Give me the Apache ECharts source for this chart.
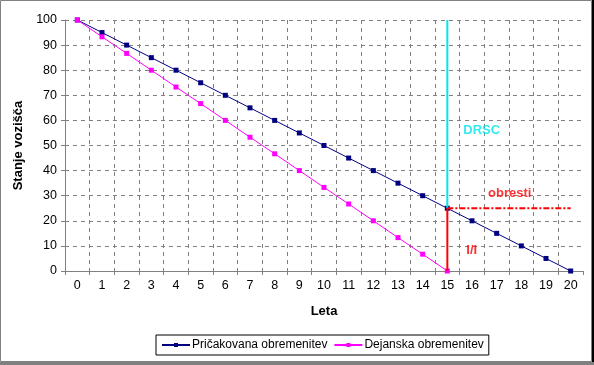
<!DOCTYPE html>
<html>
<head>
<meta charset="utf-8">
<script src="https://cdn.jsdelivr.net/npm/echarts@6/dist/echarts.min.js"></script>
<style>
html,body{margin:0;padding:0;background:#fff;}
#c{width:594px;height:365px;}
</style>
</head>
<body>
<div id="c"></div>
<script>
const years = ['0','1','2','3','4','5','6','7','8','9','10','11','12','13','14','15','16','17','18','19','20'];
const pricakovana = [100,95,90,85,80,75,70,65,60,55,50,45,40,35,30,25,20,15,10,5,0];
const dejanska = [100,93.3,86.7,80,73.3,66.7,60,53.3,46.7,40,33.3,26.7,20,13.3,6.7,0,null,null,null,null,null];
const seriesNames = ['Pričakovana obremenitev','Dejanska obremenitev'];
const drscLine = [['15',25],['15',100]];
const iiLine = [['15',0],['15',25]];
const obrestiLine = [['15',25],['20',25]];
const notes = [
  {text:'DRSC', x:'15', y:56, color:'#00E5EE', dx:16},
  {text:'obresti', x:'16', y:31, color:'#FF0000', dx:16},
  {text:'I/I', x:'15', y:8, color:'#FF0000', dx:19}
];

const chart = echarts.init(document.getElementById('c'), null, {renderer:'canvas'});
const font = 'Liberation Sans, Arial, sans-serif';
chart.setOption({
  animation:false,
  textStyle:{fontFamily:font},
  graphic:[
    {type:'rect', shape:{x:0.5,y:0.5,width:591,height:361}, style:{fill:'none',stroke:'#808080',lineWidth:1}, z:-1},
    {type:'rect', shape:{x:592,y:0,width:2,height:365}, style:{fill:'#000'}},
    {type:'rect', shape:{x:0,y:362,width:594,height:3}, style:{fill:'#808080'}}
  ],
  grid:{left:65, right:11, top:20, bottom:94, containLabel:false},
  legend:{
    bottom:10, left:156,
    data:seriesNames,
    itemWidth:28, itemHeight:5, itemGap:6,
    padding:[4,5,4,5],
    borderColor:'#000', borderWidth:1,
    textStyle:{fontSize:12, color:'#000', fontFamily:font, padding:[0,0,0,-3]}
  },
  xAxis:{
    type:'category', data:years, boundaryGap:true,
    name:'Leta', nameLocation:'middle', nameGap:34,
    nameTextStyle:{fontWeight:'bold', fontSize:13, color:'#000', fontFamily:font},
    axisLine:{lineStyle:{color:'#808080'}},
    axisTick:{show:true, inside:false, length:4, lineStyle:{color:'#808080'}},
    axisLabel:{color:'#000', fontSize:12.5, margin:8, fontFamily:font, interval:0},
    splitLine:{show:true, showMinLine:false, showMaxLine:false, lineStyle:{color:'#808080', type:[4,4]}}
  },
  yAxis:{
    type:'value', min:0, max:100, interval:10,
    name:'Stanje vozišča', nameLocation:'middle', nameGap:32, nameRotate:90,
    nameTextStyle:{fontWeight:'bold', fontSize:13, color:'#000', fontFamily:font},
    axisLine:{show:true, lineStyle:{color:'#808080'}},
    axisTick:{show:true, length:4, lineStyle:{color:'#808080'}},
    axisLabel:{color:'#000', fontSize:12.5, margin:8, fontFamily:font},
    splitLine:{show:true, showMinLine:false, lineStyle:{color:'#808080', type:[4,4]}}
  },
  series:[
    {
      name:seriesNames[0], type:'line', data:pricakovana,
      symbol:'rect', symbolSize:5, showSymbol:true,
      lineStyle:{color:'#000080', width:1}, itemStyle:{color:'#000080'}, z:3
    },
    {
      name:seriesNames[1], type:'line', data:dejanska,
      symbol:'rect', symbolSize:5, showSymbol:true,
      lineStyle:{color:'#FF00FF', width:1}, itemStyle:{color:'#FF00FF'}, z:3
    },
    {
      name:'drsc', type:'line', data:drscLine, symbol:'none',
      lineStyle:{color:'#00E5EE', width:2}, z:4, silent:true
    },
    {
      name:'ii', type:'line', data:iiLine, symbol:'none',
      lineStyle:{color:'#FF0000', width:2}, z:5, silent:true
    },
    {
      name:'obresti', type:'line', data:obrestiLine, symbol:'none',
      lineStyle:{color:'#FF0000', width:2, type:[6,2,2,2]}, z:5, silent:true
    },
    {
      name:'notes', type:'scatter', symbolSize:0, silent:true, z:6,
      data:notes.map(n=>({value:[n.x,n.y], label:{show:true, formatter:n.text, color:n.color, position:'inside', align:'left', verticalAlign:'middle', offset:[n.dx,0], fontWeight:'bold', fontSize:13, fontFamily:font}}))
    }
  ]
});
</script>
</body>
</html>
